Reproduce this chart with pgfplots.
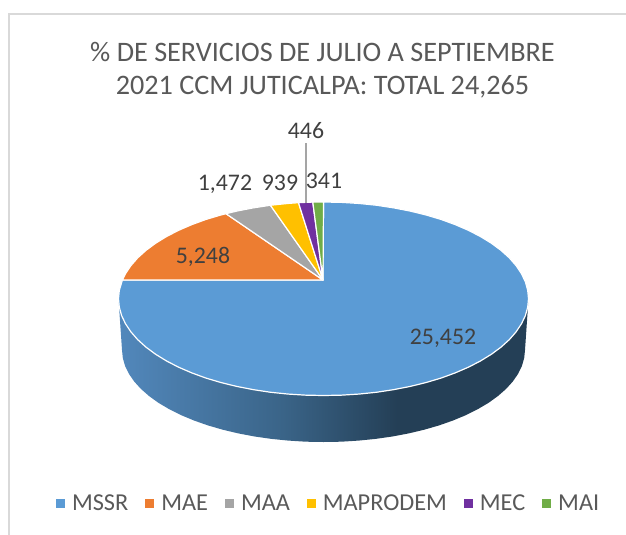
\documentclass[border=0pt]{standalone}
\usepackage{pgfplots}
\pgfplotsset{compat=1.18}
\usepackage{fontspec}
\setmainfont{Carlito}
\definecolor{cBlue}{HTML}{5B9BD5}
\definecolor{cOrange}{HTML}{ED7D31}
\definecolor{cGray}{HTML}{A5A5A5}
\definecolor{cYellow}{HTML}{FFC000}
\definecolor{cPurple}{HTML}{7030A0}
\definecolor{cGreen}{HTML}{70AD47}
\definecolor{tTitle}{HTML}{595959}
\definecolor{tLabel}{HTML}{404040}
\definecolor{wA}{HTML}{5288BC}
\definecolor{wB}{HTML}{3A6488}
\definecolor{wC}{HTML}{243F56}
\pgfdeclarehorizontalshading{wallshade}{100bp}{color(0bp)=(wA); color(25bp)=(wA); color(45bp)=(wB); color(59bp)=(wC); color(100bp)=(wC)}
\begin{document}
\begin{tikzpicture}
\path[use as bounding box] (0,0) rectangle (626pt,535pt);
\begin{axis}[
  at={(0,0)}, anchor=south west,
  scale only axis, width=626pt, height=535pt,
  xmin=0, xmax=626, ymin=0, ymax=535, y dir=reverse,
  hide axis, clip=false,
  legend columns=6,
  legend cell align=left,
  legend style={draw=none, fill=none, at={(axis cs:56,503)}, anchor=west, inner sep=0pt, outer sep=0pt,
    font=\fontsize{24.3}{28}\selectfont\color{tTitle},
    /tikz/every even column/.append style={column sep=15pt},
    /tikz/every odd column/.append style={column sep=6pt},
    nodes={inner xsep=2pt, inner ysep=0pt}},
]
% chart frame
\addplot[forget plot, color=black!15, line width=1.2pt] coordinates {(9,535) (9,14) (626,14)};
% side wall
\addplot[forget plot, draw=none, shading=wallshade] coordinates {
(118.5,298.75) (122,350) (122.8,358) (125.1,366) (128.9,373.8) (134.2,381.5) (140.9,388.9) (149,396) (158.4,402.8) (169.1,409.1) (181,415.1) (194,420.5) (207.9,425.4) (222.75,429.7) (238.3,433.4) (254.6,436.5) (271.4,438.9) (288.5,440.6) (305.9,441.7) (323.5,442) (341.1,441.7) (358.5,440.6) (375.6,438.9) (392.4,436.5) (408.7,433.4) (424.25,429.7) (439.1,425.4) (453,420.5) (466,415.1) (477.9,409.1) (488.6,402.8) (498,396) (506.1,388.9) (512.8,381.5) (518.1,373.8) (521.9,366) (524.2,358) (525,350) (528.5,298.75)
} -- cycle;
% MSSR
\addplot[forget plot, fill=cBlue, draw=white, line width=1.2pt, line join=round] coordinates {
(323,280) (323.5,202) (341.4,202.35) (359.1,203.45) (376.6,205.25) (393.6,207.85) (410.1,211.05) (426,214.95) (441.1,219.45) (455.3,224.65) (468.5,230.35) (480.5,236.55) (491.4,243.25) (501,250.35) (509.3,257.85) (516.1,265.65) (521.5,273.75) (525.4,281.95) (527.7,290.35) (528.5,298.75) (527.7,307.15) (525.4,315.55) (521.5,323.75) (516.1,331.85) (509.3,339.65) (501,347.15) (491.4,354.25) (480.5,360.95) (468.5,367.15) (455.3,372.85) (441.1,378.05) (426,382.55) (410.1,386.45) (393.6,389.65) (376.6,392.25) (359.1,394.05) (341.4,395.15) (323.5,395.5) (305.6,395.15) (287.9,394.05) (270.4,392.25) (253.4,389.65) (236.9,386.45) (221,382.55) (205.9,378.05) (191.7,372.85) (178.5,367.15) (166.5,360.95) (155.6,354.25) (146,347.15) (137.7,339.65) (130.9,331.85) (125.5,323.75) (121.6,315.55) (119.3,307.15) (118.5,298.75) (119.3,290.35) (122.4,280)
} -- cycle;
% MAE
\addplot[forget plot, fill=cOrange, draw=white, line width=1.2pt, line join=round] coordinates {
(323,280) (122.4,280) (125.5,273.75) (130.9,265.65) (137.7,257.85) (146,250.35) (155.6,243.25) (166.5,236.55) (178.5,230.35) (191.7,224.65) (205.9,219.45) (221,214.95) (226,213.7)
} -- cycle;
% MAA
\addplot[forget plot, fill=cGray, draw=white, line width=1.2pt, line join=round] coordinates {
(323,280) (226,213.7) (236.9,211.05) (253.4,207.85) (270.4,205.25)
} -- cycle;
% MAPRODEM
\addplot[forget plot, fill=cYellow, draw=white, line width=1.2pt, line join=round] coordinates {
(323,280) (270.4,205.25) (287.9,203.45) (298.5,202.7)
} -- cycle;
% MEC
\addplot[forget plot, fill=cPurple, draw=white, line width=1.2pt, line join=round] coordinates {
(323,280) (298.5,202.7) (305.6,202.35) (312.8,202.1)
} -- cycle;
% MAI
\addplot[forget plot, fill=cGreen, draw=white, line width=1.2pt, line join=round] coordinates {
(323,280) (312.8,202.1) (323.5,202)
} -- cycle;
% leader line
\addplot[forget plot, color=cGray, line width=1.6pt] coordinates {(305.7,143) (305.7,202.6)};
% legend
\addlegendimage{only marks, mark=square*, mark size=4pt, color=cBlue}
\addlegendentry{MSSR}
\addlegendimage{only marks, mark=square*, mark size=4pt, color=cOrange}
\addlegendentry{MAE}
\addlegendimage{only marks, mark=square*, mark size=4pt, color=cGray}
\addlegendentry{MAA}
\addlegendimage{only marks, mark=square*, mark size=4pt, color=cYellow}
\addlegendentry{MAPRODEM}
\addlegendimage{only marks, mark=square*, mark size=4pt, color=cPurple}
\addlegendentry{MEC}
\addlegendimage{only marks, mark=square*, mark size=4pt, color=cGreen}
\addlegendentry{MAI}
% title
\node[text=tTitle, font=\fontsize{28.2}{32}\selectfont] at (axis cs:322.5,52) {\% DE SERVICIOS DE JULIO A SEPTIEMBRE};
\node[text=tTitle, font=\fontsize{28.2}{32}\selectfont] at (axis cs:322.5,87) {2021 CCM JUTICALPA: TOTAL 24,265};
% data labels
\node[text=tLabel, font=\fontsize{23.8}{28}\selectfont] at (axis cs:306,131) {446};
\node[text=tLabel, font=\fontsize{23.8}{28}\selectfont] at (axis cs:225,184.5) {1,472};
\node[text=tLabel, font=\fontsize{23.8}{28}\selectfont] at (axis cs:280,182.5) {939};
\node[text=tLabel, font=\fontsize{23.8}{28}\selectfont] at (axis cs:324,181) {341};
\node[text=tLabel, font=\fontsize{23.8}{28}\selectfont] at (axis cs:203,256.5) {5,248};
\node[text=tLabel, font=\fontsize{23.8}{28}\selectfont] at (axis cs:443,338) {25,452};
\end{axis}
\end{tikzpicture}
\end{document}
